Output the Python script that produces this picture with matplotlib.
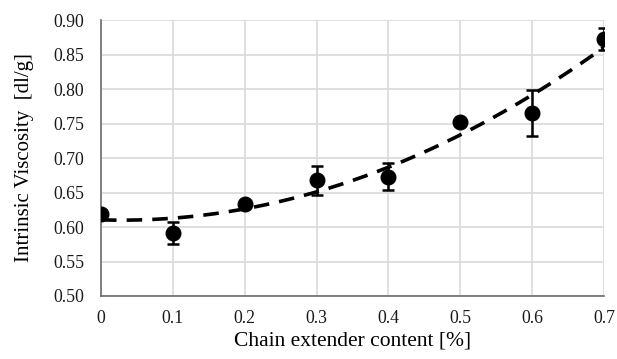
import matplotlib
matplotlib.use("Agg")
import matplotlib.pyplot as plt
import numpy as np

x = [0.0, 0.1, 0.2, 0.3, 0.4, 0.5, 0.6, 0.7]
y = [0.619, 0.591, 0.633, 0.668, 0.673, 0.752, 0.765, 0.872]
err = [0.005, 0.016, 0.004, 0.021, 0.020, 0.004, 0.033, 0.016]
xticks = [0, 0.1, 0.2, 0.3, 0.4, 0.5, 0.6, 0.7]
xticklabels = ["0", "0.1", "0.2", "0.3", "0.4", "0.5", "0.6", "0.7"]
yticks = [0.50, 0.55, 0.60, 0.65, 0.70, 0.75, 0.80, 0.85, 0.90]

plt.rcParams['font.family'] = ['Liberation Serif', 'DejaVu Serif']

fig = plt.figure(figsize=(6.17, 3.59), dpi=100)
ax = fig.add_axes([0.1637, 0.1755, 0.8153, 0.7685])

ax.errorbar(x, y, yerr=err, fmt='o', color='black', markersize=10.5,
            elinewidth=1.8, capsize=4.5, capthick=1.8, zorder=3)

coef = np.polyfit(x, y, 2)
xf = np.linspace(0, 0.7, 200)
ax.plot(xf, np.polyval(coef, xf), color='black', lw=2.6, dashes=(4.3, 2.8), zorder=4)

ax.set_xlim(0, 0.7)
ax.set_ylim(0.5, 0.9)
ax.set_xticks(xticks)
ax.set_xticklabels(xticklabels)
ax.set_yticks(yticks)
ax.set_yticklabels([f"{v:.2f}" for v in yticks])
ax.grid(True, color='#d9d9d9', lw=1.2)
ax.set_axisbelow(True)
for s in ['top', 'right']:
    ax.spines[s].set_visible(False)
for s in ['left', 'bottom']:
    ax.spines[s].set_color('#6b6b6b')
    ax.spines[s].set_linewidth(1.2)
ax.tick_params(axis='both', length=0, labelsize=12.8, colors='#1a1a1a')
ax.tick_params(axis='y', pad=12)
ax.tick_params(axis='x', pad=10)
ax.set_xlabel("Chain extender content [%]", fontsize=15.5, labelpad=3)
ax.set_ylabel("Intrinsic Viscosity  [dl/g]", fontsize=15, labelpad=14)

fig.savefig("out.png", dpi=100)
